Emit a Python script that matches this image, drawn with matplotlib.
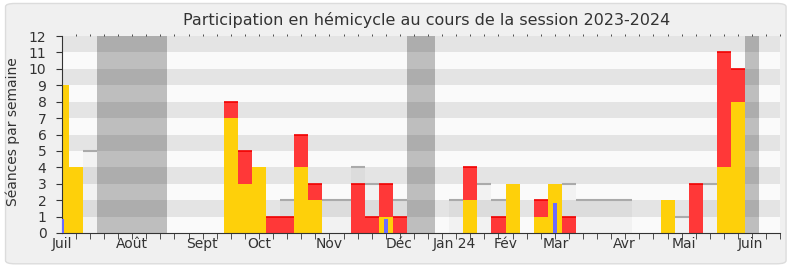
import matplotlib.pyplot as plt
from matplotlib.patches import FancyBboxPatch
import numpy as np

# one value per week, from the first week of July 2023 (week 0)
participation = [9, 4, 0, 0, 0, 0, 0, 0, 0, 0,
                 0, 0, 7, 3, 4, 0, 0, 4, 2, 0,
                 0, 0, 0, 1, 0, 0, 0, 0, 0, 2,
                 0, 0, 3, 0, 1, 3, 0, 0, 0, 0,
                 0, 0, 0, 2, 0, 0, 0, 4, 8, 0,
                 0]
presence = [9, 4, 0, 0, 0, 0, 0, 0, 0, 0,
            0, 0, 8, 5, 4, 1, 1, 6, 3, 0,
            0, 3, 1, 3, 1, 0, 0, 0, 0, 4,
            0, 1, 3, 0, 2, 3, 1, 0, 0, 0,
            0, 0, 0, 2, 0, 3, 0, 11, 10, 0,
            0]
mediane = [0, 0, 5, 0, 0, 0, 0, 0, 0, 0,
           0, 0, 0, 0, 0, 0, 2, 0, 0, 2,
           2, 4, 3, 0, 2, 0, 0, 0, 2, 0,
           3, 2, 0, 0, 0, 0, 3, 2, 2, 2,
           2, 0, 0, 0, 1, 0, 3, 0, 0, 0,
           0]
questions = [0.85, 0, 0, 0, 0, 0, 0, 0, 0, 0,
             0, 0, 0, 0, 0, 0, 0, 0, 0, 0,
             0, 0, 0, 0.85, 0, 0, 0, 0, 0, 0,
             0, 0, 0, 0, 0, 1.85, 0, 0, 0, 0,
             0, 0, 0, 0, 0, 0, 0, 0, 0, 0,
             0]
# weeks of parliamentary holidays (first, last)
vacances = [(3, 7), (25, 26), (49, 49)]

mois = ['Juil', 'Août', 'Sept', 'Oct', 'Nov', 'Déc', 'Jan 24', 'Fév', 'Mar', 'Avr', 'Mai', 'Juin']
mois_pos = [0, 4.95, 9.95, 14.05, 18.95, 23.95, 27.85, 31.5, 35.05, 39.9, 44.15, 48.9]

weeks = np.arange(len(presence))
participation = np.array(participation)
presence = np.array(presence)
mediane = np.array(mediane)
questions = np.array(questions)

fig = plt.figure(figsize=(7.9, 2.67), dpi=100)
fig.patch.set_facecolor('white')
frame = FancyBboxPatch((0.007, 0.012), 0.988, 0.975, boxstyle='round,pad=0,rounding_size=0.012',
                       transform=fig.transFigure, facecolor='#f0f0f0', edgecolor='#dcdcdc',
                       lw=1, zorder=-10)
fig.add_artist(frame)

ax = fig.add_axes([61.7 / 790, 1 - 233 / 267, (780.3 - 61.7) / 790, (233 - 36) / 267])
ax.set_zorder(5)
ax.set_facecolor('#fafafa')

for a, b in vacances:
    ax.axvspan(a - 0.5, b + 0.5, color='#bebebe', lw=0, zorder=1)
for k in range(1, 12, 2):
    ax.axhspan(k, k + 1, color='black', alpha=0.085, lw=0, zorder=2)

# median of all deputies
m = mediane > 0
ax.bar(weeks[m], mediane[m], width=1, color='black', alpha=0.03, lw=0, zorder=3)
ax.hlines(mediane[m], weeks[m] - 0.5, weeks[m] + 0.5, color='#aaaaaa', lw=1.5, zorder=3)

r = presence > participation
ax.bar(weeks, presence, width=1, color='#ff3838', lw=0, zorder=4)
ax.hlines(presence[r], weeks[r] - 0.5, weeks[r] + 0.5, color='#f00000', lw=1.2, zorder=4)
ax.bar(weeks, participation, width=1, color='#fed00a', lw=0, zorder=5)
ax.bar(weeks, questions, width=0.3, color='#6b6bff', lw=0, zorder=8)

ax.set_xlim(0, 51)
ax.set_ylim(0, 12)
ax.set_yticks(range(13))
ax.set_xticks(np.arange(52), minor=True)
ax.set_xticks(mois_pos)
ax.set_xticklabels(mois)
ax.tick_params(axis='x', which='major', length=0, labelsize=10, labelcolor='#333333', pad=3)
ax.tick_params(axis='x', which='minor', length=4, color='#333333', top=True, direction='out')
ax.tick_params(axis='y', length=4, labelsize=10, labelcolor='#333333', color='#333333', pad=7)
for t in ax.xaxis.get_minor_ticks():
    t.tick2line.set_markersize(1.2)

for s in ['top', 'right']:
    ax.spines[s].set_visible(False)
for s in ['left', 'bottom']:
    ax.spines[s].set_color('#333333')
    ax.spines[s].set_zorder(7)

fig.text(427 / 790, 1 - 20 / 267, 'Participation en hémicycle au cours de la session 2023-2024',
         ha='center', va='center', fontsize=11.5, color='#333333')
fig.text(13 / 790, 1 - 132 / 267, 'Séances par semaine', rotation=90,
         ha='center', va='center', fontsize=10, color='#333333')

fig.savefig('out.png', dpi=100, facecolor=fig.get_facecolor())
